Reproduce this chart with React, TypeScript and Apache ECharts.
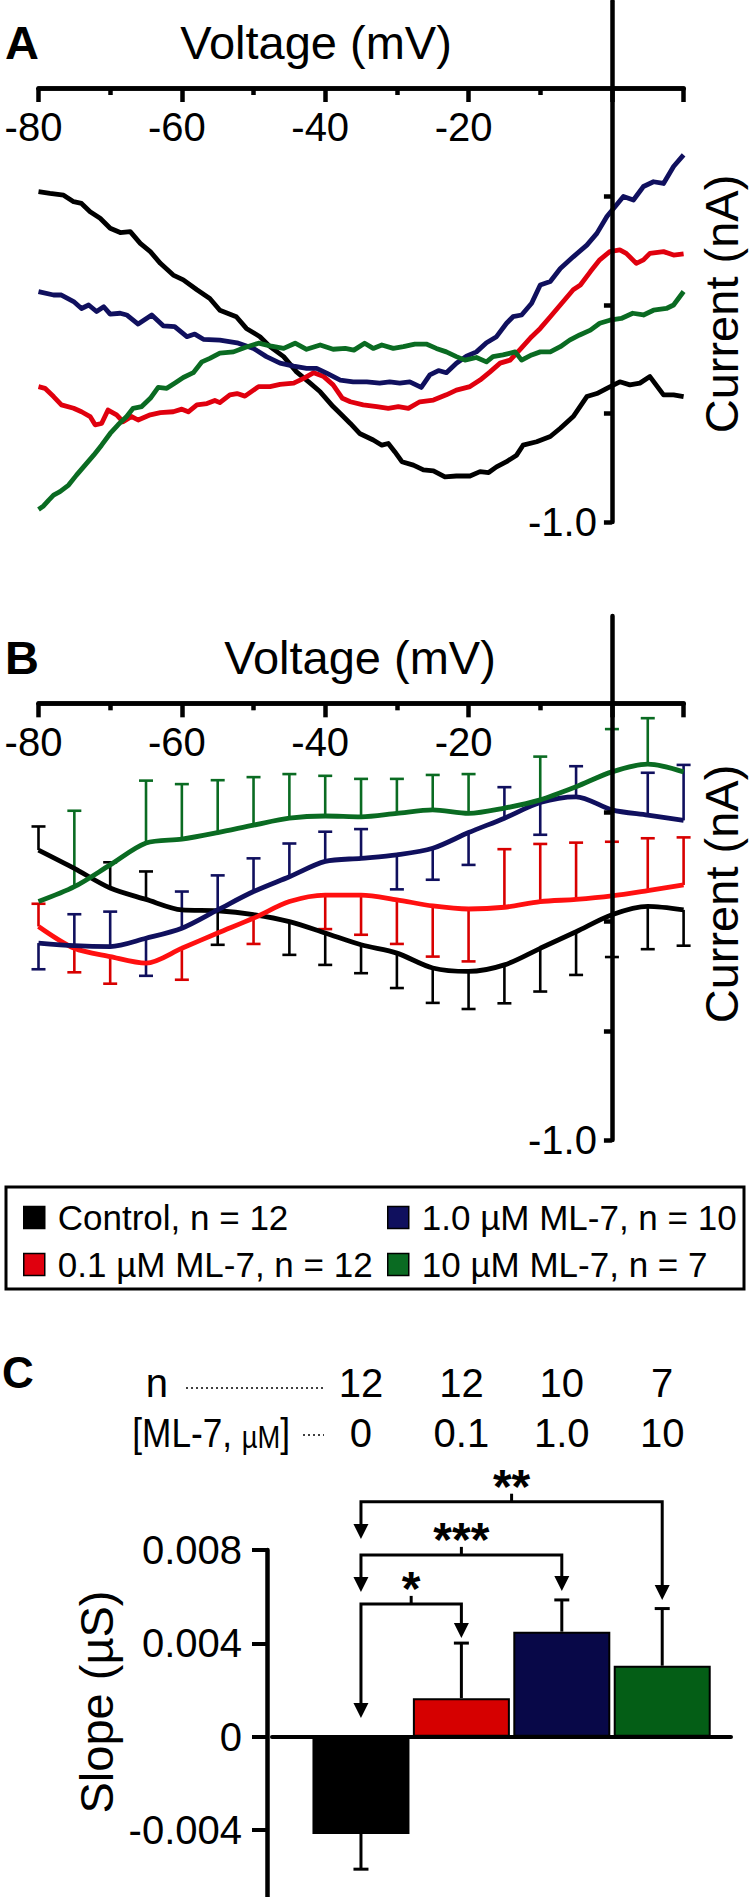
import React, { useEffect, useRef } from 'react';
import * as echarts from 'echarts';

const FONT = '"Liberation Sans", Arial, Helvetica, sans-serif';

// ---------- names / colours ----------
const seriesNames = ['Control, n = 12', '0.1 µM ML-7, n = 12', '1.0 µM ML-7, n = 10', '10 µM ML-7, n = 7'];
const lineColorsA = ['#000000', '#e0000e', '#10105e', '#0a6b22'];
const lineColorsB = ['#000000', '#ff1010', '#10105e', '#0a6b22'];
const errColorsB = ['#000000', '#d80000', '#10105e', '#0a6b22'];
const barColors = ['#000000', '#d60000', '#080848', '#045e16'];

// ---------- axis ticks ----------
const voltMajorTicks = [-80, -60, -40, -20, 0, 10];
const voltMinorTicks = [-70, -50, -30, -10];
const voltTickLabels = [-80, -60, -40, -20];
const currentTicks = [-1, -0.75, -0.5, -0.25];
const currentTickLabels = [-1];
const slopeTicks = [-0.004, 0, 0.004, 0.008];

// ---------- Panel A: single-cell I-V ramps [mV, nA] ----------
const aControl: [number, number][] = [
  [-80, -0.239], [-78.4, -0.243], [-76.5, -0.247], [-75.1, -0.262], [-74.0, -0.266], [-72.8, -0.285],
  [-71.4, -0.300], [-70.0, -0.323], [-68.6, -0.333], [-67.2, -0.331], [-65.8, -0.358], [-64.4, -0.377],
  [-63.0, -0.404], [-61.2, -0.431], [-59.8, -0.442], [-57.9, -0.465], [-56.1, -0.485], [-54.7, -0.512],
  [-52.4, -0.527], [-51.0, -0.554], [-49.1, -0.573], [-47.7, -0.596], [-45.8, -0.619], [-44.0, -0.654],
  [-42.1, -0.680], [-40.7, -0.700], [-38.9, -0.734], [-37.9, -0.750], [-36.5, -0.773], [-35.2, -0.796],
  [-33.3, -0.811], [-32.1, -0.823], [-31.2, -0.819], [-30.3, -0.838], [-29.3, -0.861], [-27.7, -0.869],
  [-26.3, -0.880], [-24.9, -0.882], [-23.3, -0.896], [-21.7, -0.894], [-19.8, -0.894], [-18.4, -0.884],
  [-17.2, -0.886], [-16.1, -0.873], [-14.7, -0.861], [-13.3, -0.846], [-12.4, -0.823], [-10.5, -0.815],
  [-8.6, -0.803], [-7.2, -0.784], [-5.4, -0.757], [-3.5, -0.711], [-2.1, -0.704], [-0.7, -0.692],
  [1.1, -0.677], [2.5, -0.684], [3.9, -0.680], [5.3, -0.665], [7.2, -0.707], [8.6, -0.707], [10, -0.711],
];
const aLow: [number, number][] = [
  [-80, -0.688], [-79.1, -0.692], [-77.9, -0.711], [-76.8, -0.730], [-75.1, -0.738], [-74.0, -0.746],
  [-72.8, -0.757], [-72.1, -0.776], [-71.2, -0.773], [-70.3, -0.742], [-69.1, -0.753], [-68.2, -0.769],
  [-67.0, -0.757], [-66.1, -0.765], [-64.4, -0.753], [-63.0, -0.748], [-61.2, -0.746], [-60.0, -0.740],
  [-59.1, -0.746], [-57.9, -0.730], [-56.5, -0.727], [-55.4, -0.720], [-54.7, -0.725], [-53.3, -0.707],
  [-52.3, -0.704], [-51.2, -0.710], [-49.3, -0.688], [-47.7, -0.688], [-46.3, -0.683], [-44.4, -0.680],
  [-43.0, -0.669], [-41.6, -0.656], [-40.2, -0.665], [-38.9, -0.684], [-37.6, -0.715], [-36.5, -0.723],
  [-34.7, -0.730], [-32.8, -0.734], [-31.2, -0.738], [-29.8, -0.734], [-28.4, -0.738], [-26.8, -0.723],
  [-24.9, -0.719], [-23.1, -0.707], [-21.7, -0.696], [-19.8, -0.688], [-18.4, -0.673], [-17.0, -0.654],
  [-15.6, -0.634], [-14.2, -0.627], [-12.8, -0.602], [-11.2, -0.573], [-10.0, -0.554], [-8.6, -0.527],
  [-7.0, -0.496], [-5.4, -0.465], [-4.4, -0.454], [-3.0, -0.423], [-1.7, -0.396], [-0.3, -0.377],
  [1.1, -0.373], [2.0, -0.381], [3.4, -0.404], [4.4, -0.396], [5.3, -0.381], [7.2, -0.377], [8.6, -0.385],
  [10, -0.382],
];
const aMid: [number, number][] = [
  [-80, -0.469], [-77.9, -0.477], [-76.8, -0.477], [-75.1, -0.492], [-74.0, -0.508], [-73.0, -0.500],
  [-71.9, -0.515], [-70.9, -0.504], [-70.0, -0.521], [-68.6, -0.519], [-67.7, -0.523], [-66.1, -0.544],
  [-64.2, -0.523], [-62.6, -0.548], [-61.0, -0.550], [-59.3, -0.573], [-58.2, -0.567], [-57.0, -0.579],
  [-54.7, -0.581], [-52.3, -0.587], [-50.0, -0.600], [-48.2, -0.619], [-46.3, -0.634], [-44.4, -0.641],
  [-42.6, -0.646], [-41.2, -0.646], [-39.8, -0.657], [-37.9, -0.673], [-36.1, -0.677], [-34.2, -0.677],
  [-32.4, -0.680], [-31.0, -0.677], [-29.6, -0.680], [-28.2, -0.677], [-26.6, -0.690], [-25.4, -0.661],
  [-24.2, -0.651], [-23.1, -0.656], [-21.7, -0.634], [-20.3, -0.618], [-18.9, -0.608], [-17.5, -0.587],
  [-16.1, -0.573], [-14.7, -0.542], [-13.8, -0.527], [-12.6, -0.523], [-11.2, -0.496], [-10.0, -0.454],
  [-8.6, -0.446], [-7.2, -0.416], [-5.4, -0.389], [-3.5, -0.362], [-2.1, -0.335], [-0.7, -0.296],
  [0.6, -0.270], [1.6, -0.250], [3.0, -0.258], [4.4, -0.227], [5.8, -0.216], [7.2, -0.220], [8.6, -0.181],
  [10, -0.154],
];
const aHigh: [number, number][] = [
  [-80, -0.971], [-79.3, -0.963], [-78.6, -0.950], [-77.9, -0.938], [-77.0, -0.930], [-75.8, -0.915],
  [-74.7, -0.892], [-73.5, -0.869], [-72.3, -0.846], [-71.2, -0.823], [-70.0, -0.796], [-68.9, -0.776],
  [-67.7, -0.757], [-66.8, -0.738], [-65.6, -0.734], [-64.4, -0.715], [-63.3, -0.690], [-62.1, -0.692],
  [-60.9, -0.679], [-59.8, -0.667], [-58.4, -0.656], [-57.2, -0.631], [-56.1, -0.623], [-54.7, -0.611],
  [-52.8, -0.608], [-51.2, -0.598], [-49.3, -0.588], [-47.7, -0.594], [-45.8, -0.600], [-44.2, -0.588],
  [-42.6, -0.602], [-40.7, -0.592], [-38.9, -0.602], [-37.2, -0.600], [-36.0, -0.604], [-34.5, -0.588],
  [-33.3, -0.600], [-32.1, -0.592], [-30.5, -0.600], [-29.1, -0.596], [-27.5, -0.590], [-25.9, -0.590],
  [-24.5, -0.600], [-23.1, -0.608], [-21.7, -0.619], [-20.5, -0.627], [-18.9, -0.621], [-17.5, -0.631],
  [-16.6, -0.619], [-15.2, -0.615], [-13.5, -0.608], [-12.6, -0.627], [-11.2, -0.615], [-10.0, -0.608],
  [-8.6, -0.608], [-7.2, -0.596], [-5.9, -0.581], [-4.5, -0.569], [-3.0, -0.558], [-1.7, -0.542],
  [-0.3, -0.535], [1.3, -0.531], [2.9, -0.519], [4.4, -0.523], [5.8, -0.512], [7.6, -0.508], [8.6, -0.500],
  [10, -0.469],
];

// ---------- Panel B: mean I-V with one-sided error bars ----------
const bVoltage = [-80, -75, -70, -65, -60, -55, -50, -45, -40, -35, -30, -25, -20, -15, -10, -5, 0, 5, 10];
const bControl = [-0.336, -0.378, -0.423, -0.449, -0.473, -0.475, -0.484, -0.500, -0.526, -0.553, -0.572, -0.606, -0.614, -0.599, -0.561, -0.523, -0.484, -0.465, -0.473];
const bControlErr = [0.054, 0, 0.059, 0.064, 0, 0.078, 0, 0.076, 0.073, 0.065, 0.080, 0.080, 0.086, 0.088, 0.099, 0.099, 0.097, 0.098, 0.082];
const bControlDir = [1, 0, 1, 1, 0, -1, 0, -1, -1, -1, -1, -1, -1, -1, -1, -1, -1, -1, -1];
const bLow = [-0.511, -0.561, -0.580, -0.595, -0.561, -0.526, -0.492, -0.454, -0.439, -0.439, -0.450, -0.464, -0.471, -0.467, -0.454, -0.449, -0.441, -0.429, -0.416];
const bLowErr = [0.052, 0.055, 0.062, 0, 0.072, 0, 0.059, 0, 0.078, 0.091, 0.101, 0.116, 0.120, 0.133, 0.132, 0.130, 0.124, 0.120, 0.109];
const bLowDir = [1, -1, -1, 0, -1, 0, -1, 0, -1, -1, -1, -1, -1, 1, 1, 1, 1, 1, 1];
const bMid = [-0.549, -0.555, -0.557, -0.538, -0.515, -0.473, -0.431, -0.397, -0.362, -0.355, -0.347, -0.332, -0.296, -0.263, -0.227, -0.214, -0.244, -0.256, -0.268];
const bMidErr = [0.060, 0.072, 0.080, 0.086, 0.084, 0.079, 0.076, 0.076, 0.068, 0.067, 0.079, 0.072, 0.074, 0.071, 0.074, 0.070, 0, 0.097, 0.127];
const bMidDir = [-1, 1, 1, -1, 1, 1, 1, 1, 1, 1, -1, -1, -1, 1, -1, 1, 0, 1, 1];
const bHigh = [-0.454, -0.420, -0.370, -0.320, -0.311, -0.296, -0.279, -0.263, -0.258, -0.260, -0.252, -0.244, -0.252, -0.240, -0.221, -0.191, -0.157, -0.139, -0.157];
const bHighErr = [0, 0.174, 0, 0.143, 0.126, 0.120, 0.110, 0.101, 0.092, 0.087, 0.079, 0.080, 0.090, 0, 0.099, 0, 0.098, 0.105, 0];
const bHighDir = [0, 1, 0, 1, 1, 1, 1, 1, 1, 1, 1, 1, 1, 0, 1, 0, 1, 1, 0];

// ---------- Panel C: slopes ----------
const groupN = ['12', '12', '10', '7'];
const groupConc = ['0', '0.1', '1.0', '10'];
const slopes = [-0.00417, 0.00165, 0.0045, 0.00304];
const slopeErr = [0.00151, 0.00236, 0.00136, 0.00245];
const comparisons = [
  { from: 0, to: 1, label: '*', level: 0.00569, tipFrom: 0.0008, tipTo: 0.00423 },
  { from: 0, to: 2, label: '***', level: 0.00779, tipFrom: 0.0062, tipTo: 0.00624 },
  { from: 0, to: 3, label: '**', level: 0.01007, tipFrom: 0.00847, tipTo: 0.00586 },
];

// ---------- layout ----------
const V_MIN = -80, V_MAX = 10, I_MIN = -1, I_MAX = 0.2;
const gridA = { left: 38.5, top: 1.2, width: 645.1, height: 520.8 };
const gridB = { left: 38.5, top: 616, width: 645.1, height: 524 };
const gridC = { left: 272, top: 1550, width: 459, height: 373.3 };

// offset that moves an edge axis to the zero of the other axis
const xZeroOffset = (g: any) => -(g.height * (0 - I_MIN)) / (I_MAX - I_MIN);
const yZeroOffset = (g: any) => -(g.width * (0 - V_MIN)) / (V_MAX - V_MIN);

function voltAxes(gridIndex: number, g: any) {
  const line = { onZero: false, lineStyle: { color: '#000', width: 4.5 } };
  const offset = xZeroOffset(g);
  return [
    {
      gridIndex, type: 'value', min: V_MIN, max: V_MAX, position: 'bottom', offset, axisLine: line,
      axisTick: { show: true, length: 14, customValues: voltMajorTicks, lineStyle: { color: '#000', width: 4.5 } },
      axisLabel: {
        show: true, customValues: voltTickLabels, fontSize: 40, color: '#000', fontFamily: FONT,
        margin: 19, padding: [0, 10, 0, 0], formatter: (v: number) => String(v),
      },
      splitLine: { show: false },
    },
    {
      gridIndex, type: 'value', min: V_MIN, max: V_MAX, position: 'bottom', offset, axisLine: line,
      axisTick: { show: true, length: 7, customValues: voltMinorTicks, lineStyle: { color: '#000', width: 4.5 } },
      axisLabel: { show: false },
      splitLine: { show: false },
    },
  ];
}

function currentAxis(gridIndex: number, g: any) {
  return {
    gridIndex, type: 'value', min: I_MIN, max: I_MAX, position: 'left', offset: yZeroOffset(g), z: 5,
    axisLine: { onZero: false, lineStyle: { color: '#000', width: 4.5 } },
    axisTick: { show: true, length: 8, customValues: currentTicks, lineStyle: { color: '#000', width: 4.5 } },
    axisLabel: {
      show: true, customValues: currentTickLabels, fontSize: 40, color: '#000', fontFamily: FONT, margin: 15,
      formatter: (v: number) => v.toFixed(1),
    },
    splitLine: { show: false },
  };
}

function errorRenderer(color: string, width: number, half: number) {
  return (params: any, api: any) => {
    const dir = api.value(3);
    const err = api.value(2);
    if (!dir || !err) return null;
    const x = api.value(0);
    const y = api.value(1);
    const p0 = api.coord([x, y]);
    const p1 = api.coord([x, y + dir * err]);
    const st = { stroke: color, lineWidth: width, fill: 'none' };
    return {
      type: 'group',
      children: [
        { type: 'line', shape: { x1: p0[0], y1: p0[1], x2: p1[0], y2: p1[1] }, style: st },
        { type: 'line', shape: { x1: p1[0] - half, y1: p1[1], x2: p1[0] + half, y2: p1[1] }, style: st },
      ],
    };
  };
}

function buildOption() {
  const aData = [aControl, aLow, aMid, aHigh];
  const bMeans = [bControl, bLow, bMid, bHigh];
  const bErrs = [bControlErr, bLowErr, bMidErr, bHighErr];
  const bDirs = [bControlDir, bLowDir, bMidDir, bHighDir];

  const series: any[] = [];
  aData.forEach((d, i) => {
    series.push({
      type: 'line', name: seriesNames[i], xAxisIndex: 0, yAxisIndex: 0, data: d,
      showSymbol: false, symbol: 'none', color: lineColorsA[i],
      itemStyle: { color: lineColorsA[i] },
      lineStyle: { color: lineColorsA[i], width: 4.8, join: 'round' },
      z: 2,
    });
  });
  bMeans.forEach((m, i) => {
    series.push({
      type: 'custom', xAxisIndex: 2, yAxisIndex: 1, clip: false, z: 1,
      renderItem: errorRenderer(errColorsB[i], 2.6, 7),
      encode: { x: 0, y: 1 },
      data: bVoltage.map((v, k) => [v, m[k], bErrs[i][k], bDirs[i][k]]),
    });
  });
  bMeans.forEach((m, i) => {
    series.push({
      type: 'line', name: seriesNames[i], xAxisIndex: 2, yAxisIndex: 1,
      data: bVoltage.map((v, k) => [v, m[k]]), smooth: 0.3,
      showSymbol: false, symbol: 'none', color: lineColorsB[i],
      itemStyle: { color: lineColorsB[i] },
      lineStyle: { color: lineColorsB[i], width: 4.8 },
      z: 2,
    });
  });
  series.push({
    type: 'custom', xAxisIndex: 4, yAxisIndex: 2, clip: false, z: 1,
    renderItem: errorRenderer('#000', 3, 7.5),
    encode: { x: 0, y: 1 },
    data: slopes.map((s, i) => [i, s, slopeErr[i], s < 0 ? -1 : 1]),
  });
  series.push({
    type: 'bar', xAxisIndex: 4, yAxisIndex: 2, barWidth: 97, z: 2,
    data: slopes.map((s, i) => ({ value: [i, s], itemStyle: { color: barColors[i] } })),
    itemStyle: { borderColor: '#000', borderWidth: 2 },
  });

  const legendCommon = {
    orient: 'vertical', top: 1200, padding: 0, itemWidth: 21, itemHeight: 22, itemGap: 12,
    icon: 'rect', selectedMode: false,
    itemStyle: { borderColor: '#000', borderWidth: 1.5 },
    formatter: '{g| }{name}',
    textStyle: {
      fontSize: 35, lineHeight: 35, color: '#000', fontFamily: FONT,
      rich: { g: { width: 8, fontSize: 35, lineHeight: 35 } },
    },
  };

  return {
    animation: false,
    backgroundColor: '#ffffff',
    textStyle: { fontFamily: FONT },
    grid: [
      { ...gridA, outerBoundsMode: 'none', containLabel: false },
      { ...gridB, outerBoundsMode: 'none', containLabel: false },
      { ...gridC, outerBoundsMode: 'none', containLabel: false },
    ],
    xAxis: [
      ...voltAxes(0, gridA),
      ...voltAxes(1, gridB),
      {
        gridIndex: 2, type: 'value', min: -0.886, max: 3.685, position: 'bottom',
        offset: -(gridC.height * 0.5),
        axisLine: { onZero: false, lineStyle: { color: '#000', width: 4 } },
        axisTick: { show: false }, axisLabel: { show: false }, splitLine: { show: false },
      },
    ],
    yAxis: [
      currentAxis(0, gridA),
      currentAxis(1, gridB),
      {
        gridIndex: 2, type: 'value', min: -0.008, max: 0.008, interval: 0.004, position: 'left', offset: 5,
        axisLine: { onZero: false, lineStyle: { color: '#000', width: 4.5 } },
        axisTick: { show: true, length: 15, customValues: slopeTicks, lineStyle: { color: '#000', width: 4 } },
        axisLabel: {
          customValues: slopeTicks, fontSize: 40, color: '#000', fontFamily: FONT, margin: 25,
          formatter: (v: number) => (Math.abs(v) < 1e-9 ? '0' : v.toFixed(3)),
        },
        splitLine: { show: false },
      },
    ],
    legend: [
      { ...legendCommon, left: 23, data: [seriesNames[0], seriesNames[1]] },
      { ...legendCommon, left: 387, data: [seriesNames[2], seriesNames[3]] },
    ],
    series,
  };
}

function txt(text: string, x: number, y: number, size: number, extra: any = {}, el: any = {}) {
  return {
    type: 'text', x, y, z: 10, ...el,
    style: {
      text, fontSize: size, fontFamily: FONT, fill: '#000', align: 'left', verticalAlign: 'middle', ...extra,
    },
  };
}

function buildGraphics(chart: any) {
  const px = (i: number) => chart.convertToPixel({ xAxisIndex: 4 }, i) as number;
  const py = (v: number) => chart.convertToPixel({ yAxisIndex: 2 }, v) as number;
  const els: any[] = [];

  // panel labels and axis titles
  els.push(txt('A', 5, 42, 47, { fontWeight: 'bold' }));
  els.push(txt('Voltage (mV)', 316, 42, 47, { align: 'center' }));
  els.push(txt('Current (nA)', 721, 304, 47, { align: 'center' }, { rotation: Math.PI / 2 }));
  els.push(txt('B', 5, 657, 47, { fontWeight: 'bold' }));
  els.push(txt('Voltage (mV)', 360, 657, 47, { align: 'center' }));
  els.push(txt('Current (nA)', 721, 894, 47, { align: 'center' }, { rotation: Math.PI / 2 }));
  els.push(txt('C', 2, 1372, 44, { fontWeight: 'bold' }));
  els.push(txt('Slope (µS)', 96, 1702, 47, { align: 'center' }, { rotation: Math.PI / 2 }));

  // legend frame
  els.push({
    type: 'rect', z: 10, shape: { x: 6, y: 1187, width: 738, height: 102 },
    style: { fill: 'none', stroke: '#000', lineWidth: 3 },
  });

  // table above panel C
  const rowN = 1383;
  const rowConc = 1433;
  els.push(txt('n', 168, rowN, 40, { align: 'right' }));
  els.push({
    type: 'line', z: 10, shape: { x1: 186, y1: rowN + 5, x2: 326, y2: rowN + 5 },
    style: { stroke: '#000', lineWidth: 1.5, lineDash: [2, 3] },
  });
  els.push({
    type: 'text', x: 290, y: rowConc, z: 10, scaleX: 0.88,
    style: {
      text: '{a|[ML-7, }{b|µM}{a|]}', align: 'right', verticalAlign: 'middle', fill: '#000',
      rich: {
        a: { fontSize: 40, fontFamily: FONT, fill: '#000', lineHeight: 40 },
        b: { fontSize: 31, fontFamily: FONT, fill: '#000', lineHeight: 31, verticalAlign: 'bottom' },
      },
    },
  });
  els.push({
    type: 'line', z: 10, shape: { x1: 303, y1: rowConc + 2, x2: 324, y2: rowConc + 2 },
    style: { stroke: '#000', lineWidth: 1.5, lineDash: [2, 3] },
  });
  groupN.forEach((n, i) => els.push(txt(n, px(i), rowN, 40, { align: 'center' })));
  groupConc.forEach((c, i) => els.push(txt(c, px(i), rowConc, 40, { align: 'center' })));

  // significance brackets
  const head = 15;
  const halfW = 7.5;
  comparisons.forEach((c) => {
    const xL = px(c.from);
    const xR = px(c.to);
    const yL = py(c.level);
    const tL = py(c.tipFrom);
    const tR = py(c.tipTo);
    const mid = (xL + xR) / 2;
    els.push({
      type: 'polyline', z: 10,
      shape: { points: [[xL, tL - head + 1], [xL, yL], [xR, yL], [xR, tR - head + 1]] },
      style: { stroke: '#000', lineWidth: 3, fill: 'none' },
    });
    els.push({ type: 'polygon', z: 10, shape: { points: [[xL - halfW, tL - head], [xL + halfW, tL - head], [xL, tL]] }, style: { fill: '#000' } });
    els.push({ type: 'polygon', z: 10, shape: { points: [[xR - halfW, tR - head], [xR + halfW, tR - head], [xR, tR]] }, style: { fill: '#000' } });
    els.push({
      type: 'line', z: 10, shape: { x1: mid, y1: yL, x2: mid, y2: yL - 8 },
      style: { stroke: '#000', lineWidth: 3 },
    });
    els.push(txt(c.label, mid, yL - 15, 48, { align: 'center', fontWeight: 'bold' }));
  });

  return els;
}

export default function App() {
  const ref = useRef<HTMLDivElement>(null);
  useEffect(() => {
    if (!ref.current) return;
    const chart = echarts.init(ref.current, undefined, { renderer: 'svg', width: 750, height: 1897 });
    chart.setOption(buildOption() as any);
    chart.setOption({ graphic: { elements: buildGraphics(chart) } } as any);
    return () => chart.dispose();
  }, []);
  return (
    <div
      ref={ref}
      style={{ position: 'absolute', left: 0, top: 0, width: 750, height: 1897, background: '#fff' }}
    />
  );
}
